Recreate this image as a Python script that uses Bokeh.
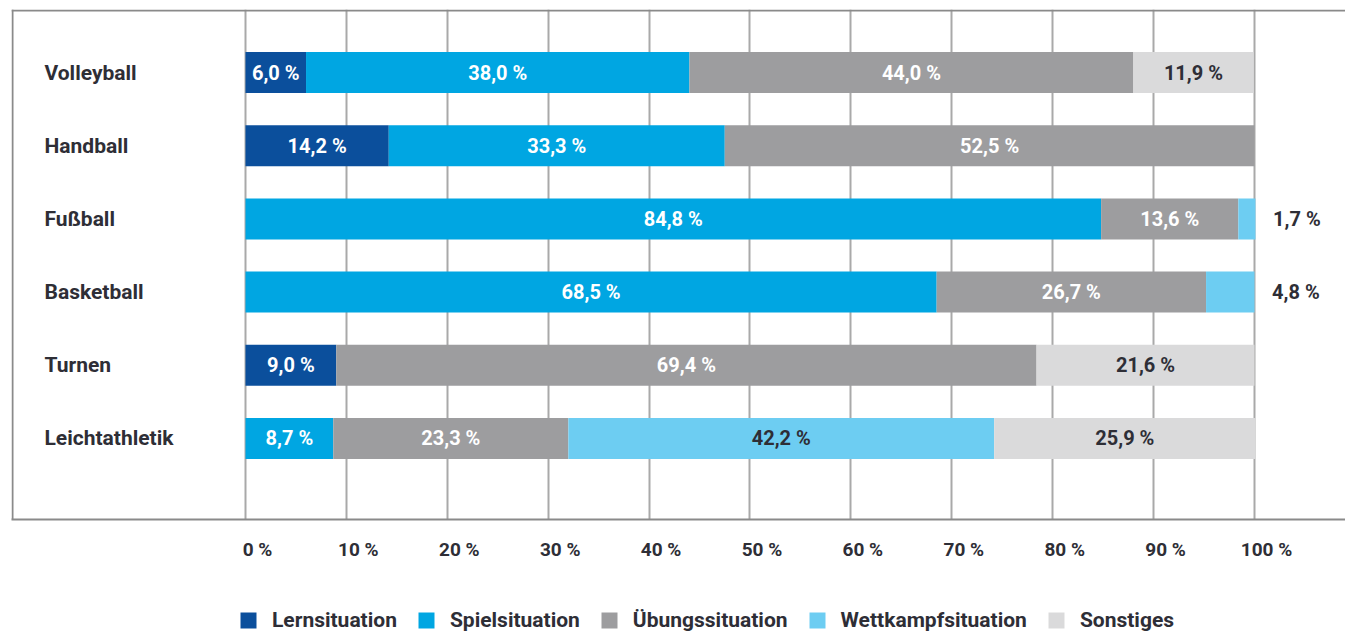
import numpy as np
from bokeh.plotting import figure
from bokeh.layouts import column
from bokeh.models import (Range1d, LinearAxis, FixedTicker, Grid, Span, ColumnDataSource,
                          Legend, LegendItem, PrintfTickFormatter)
from bokeh.core.properties import value
from bokeh.embed import file_html
from bokeh.resources import INLINE

# ---------------- data ----------------
categories = ["Volleyball", "Handball", "Fußball", "Basketball", "Turnen", "Leichtathletik"]
lernsituation = [6.0, 14.2, 0.0, 0.0, 9.0, 0.0]
spielsituation = [38.0, 33.3, 84.8, 68.5, 0.0, 8.7]
uebungssituation = [44.0, 52.5, 13.6, 26.7, 69.4, 23.3]
wettkampfsituation = [0.0, 0.0, 1.7, 4.8, 0.0, 42.2]
sonstiges = [11.9, 0.0, 0.0, 0.0, 21.6, 25.9]
series_names = ["Lernsituation", "Spielsituation", "Übungssituation", "Wettkampfsituation", "Sonstiges"]
x_ticks = [0, 10, 20, 30, 40, 50, 60, 70, 80, 90, 100]

# ---------------- style ----------------
colors = ["#0b4f9c", "#00a6e2", "#9d9d9f", "#6dcdf2", "#dadadb"]
label_colors = ["white", "white", "white", "#2e2e36", "#2e2e36"]
TEXT = "#2e2e36"
FONT = "Roboto"
W = 1345
X0 = -23.19
X1 = X0 + (W - 11) / 10.09
Y0, Y1 = 6.107, -0.861
CAT_LABEL_X = -19.92
TICK_SHIFT = 1.19
OUTSIDE_GAP = 4.1

series = [lernsituation, spielsituation, uebungssituation, wettkampfsituation, sonstiges]
ypos = list(range(len(categories)))

data = {"y": ypos, "cat": categories}
for name, vals in zip(series_names, series):
    data[name] = vals
src = ColumnDataSource(data)

p = figure(width=W, height=580, x_range=Range1d(X0, X1), y_range=Range1d(Y0, Y1),
           output_backend="svg", toolbar_location=None,
           x_axis_location=None, y_axis_location=None,
           min_border_left=11, min_border_top=9, min_border_right=0, min_border_bottom=61,
           outline_line_color=None, background_fill_color="white", border_fill_color="white")
p.xgrid.visible = False
p.ygrid.visible = False

# grid
p.add_layout(Grid(dimension=0, ticker=FixedTicker(ticks=x_ticks),
                  grid_line_color="#a9a9a9", grid_line_width=2))

# frame borders
p.add_layout(Span(location=X0 + 0.1, dimension="height", line_color="#8a8a8a", line_width=2))
p.add_layout(Span(location=Y1 + 0.015, dimension="width", line_color="#8a8a8a", line_width=2))

# bars
renderers = p.hbar_stack(series_names, y="y", height=0.56, color=colors, line_color=None, source=src)

# value labels
lx, ly, lt, lc = [], [], [], []
arr = np.array(series)
cum = np.cumsum(arr, axis=0)
totals = cum[-1]
for si in range(len(series)):
    for ci in range(len(categories)):
        v = arr[si, ci]
        if v <= 0:
            continue
        txt = f"{v:.1f}".replace(".", ",") + " %"
        if v < 5:
            lx.append(totals[ci] + OUTSIDE_GAP)
            lc.append(TEXT)
        else:
            lx.append(cum[si, ci] - v / 2)
            lc.append(label_colors[si])
        ly.append(ci)
        lt.append(txt)
p.text(x=lx, y=ly, text=lt, text_color=lc, text_align="center", text_baseline="middle",
       text_font=value(FONT), text_font_style="bold", text_font_size="20px")

# category labels
p.text(x=[CAT_LABEL_X] * len(categories), y=ypos, text=categories, text_color=TEXT,
       text_align="left", text_baseline="middle",
       text_font=value(FONT), text_font_style="bold", text_font_size="21px")

# bottom axis (labels shifted right like the original)
p.extra_x_ranges = {"lab": Range1d(X0 - TICK_SHIFT, X1 - TICK_SHIFT)}
ax = LinearAxis(x_range_name="lab", ticker=FixedTicker(ticks=x_ticks),
                formatter=PrintfTickFormatter(format="%d %%"),
                major_tick_line_color=None, minor_tick_line_color=None,
                axis_line_color="#8a8a8a", axis_line_width=2,
                major_label_standoff=12,
                major_label_text_font=FONT, major_label_text_font_style="bold",
                major_label_text_font_size="19px", major_label_text_color=TEXT)
p.add_layout(ax, "below")

# legend in its own strip
LH = 54
pl = figure(width=W, height=LH, x_range=Range1d(0, W), y_range=Range1d(0, LH),
            output_backend="svg", toolbar_location=None,
            x_axis_location=None, y_axis_location=None,
            min_border_left=0, min_border_top=0, min_border_right=0, min_border_bottom=0,
            outline_line_color=None, background_fill_color="white", border_fill_color="white")
pl.xgrid.visible = False
pl.ygrid.visible = False
dummies = [pl.hbar(y=[-100], right=[-100], left=[-101], height=1, color=c, line_color=None) for c in colors]
items = [LegendItem(label=n, renderers=[r]) for n, r in zip(series_names, dummies)]
legend = Legend(items=items, orientation="horizontal", location=(227, 1),
                border_line_color=None, background_fill_alpha=0,
                glyph_width=20, glyph_height=20, label_height=26, label_standoff=14,
                spacing=19, padding=0, margin=0,
                label_text_font=FONT, label_text_font_style="bold",
                label_text_font_size="21px", label_text_color=TEXT)
pl.add_layout(legend, "center")

layout = column(p, pl, spacing=0)
open("out.html", "w").write(file_html(layout, INLINE))
